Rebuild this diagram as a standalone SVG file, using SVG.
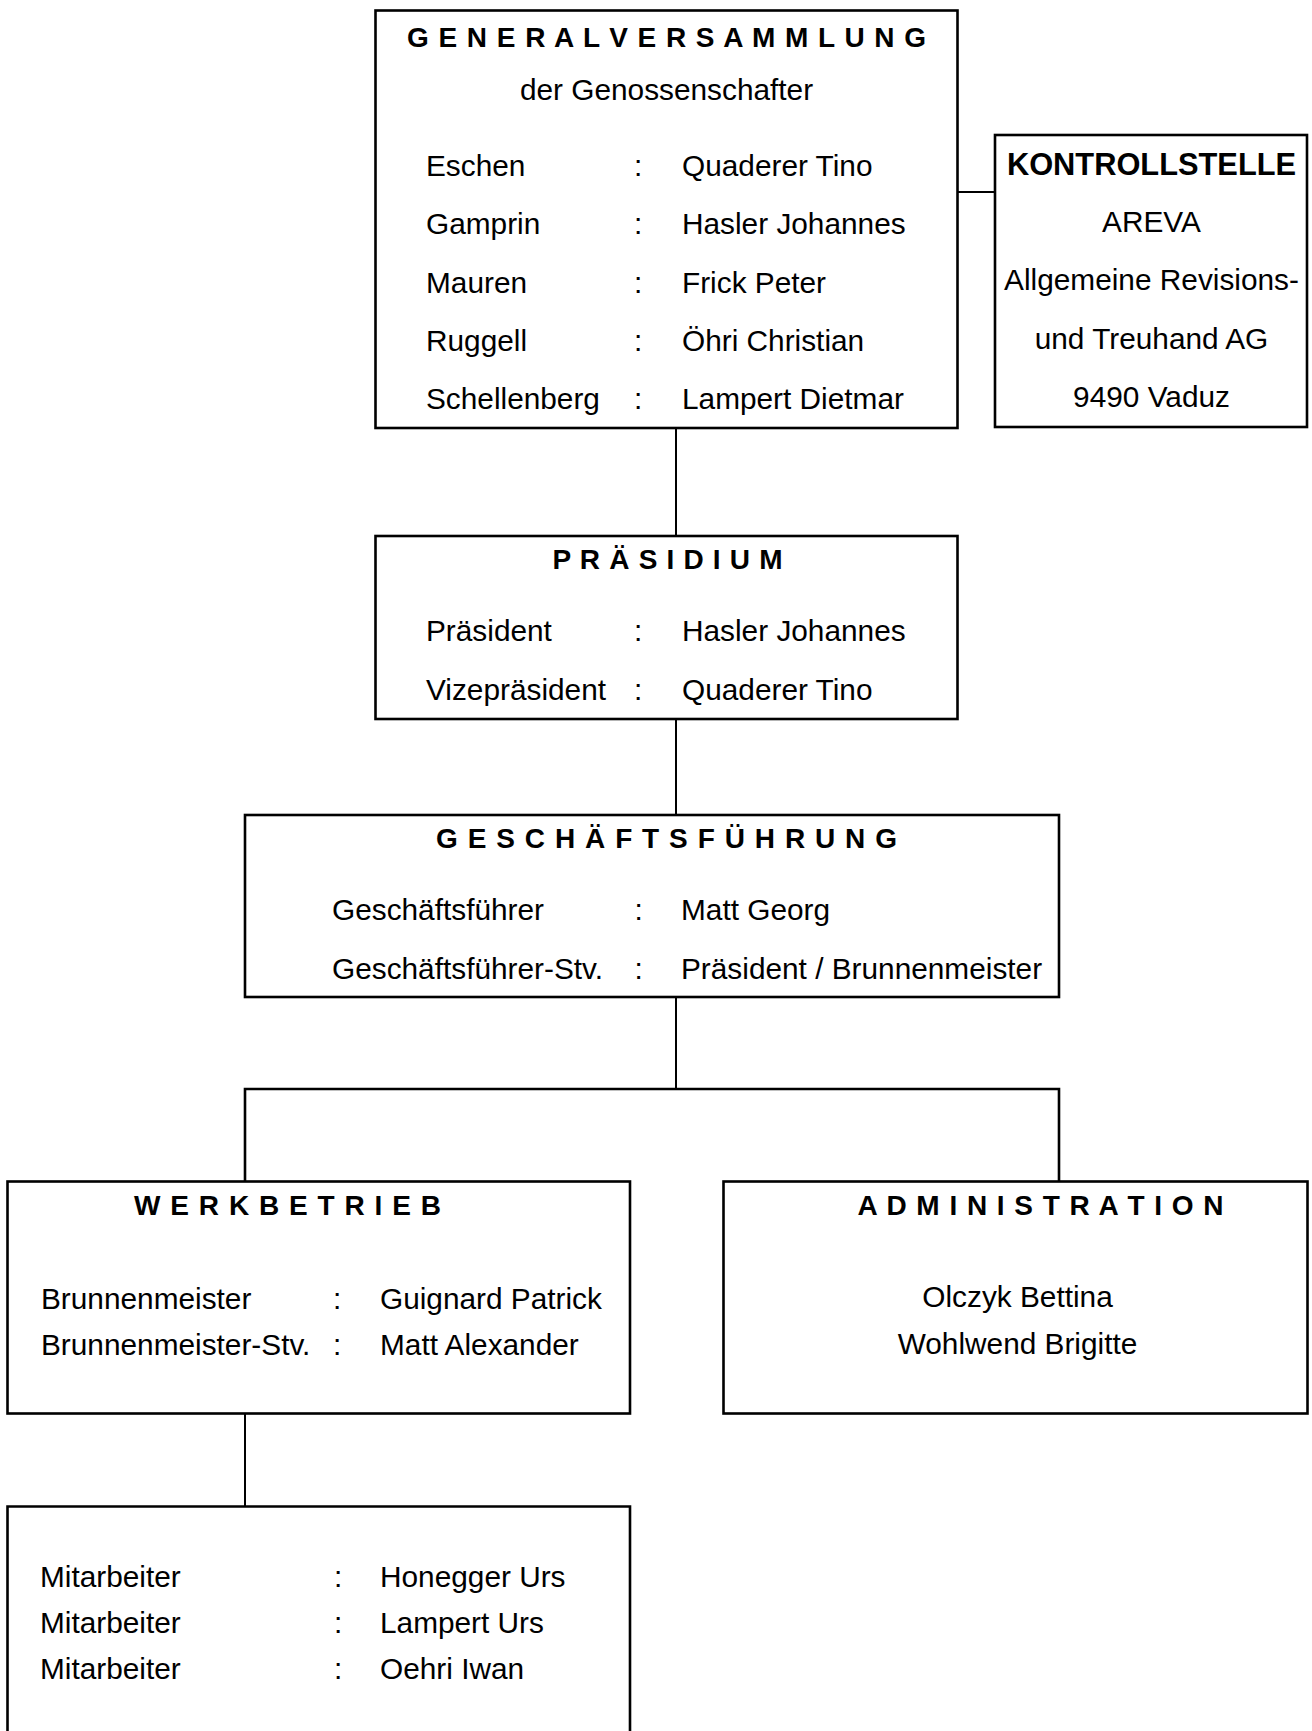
<svg xmlns="http://www.w3.org/2000/svg" width="1312" height="1731" viewBox="0 0 1312 1731">
<style>
.box{fill:#fff;stroke:#000;stroke-width:2.6}
.con{fill:none;stroke:#000;stroke-width:2}
.bar{fill:none;stroke:#000;stroke-width:2.6}
text{font-family:"Liberation Sans",Arial,sans-serif;fill:#000}
.t{font-size:29.8px}
.h{font-size:28px;font-weight:bold;text-anchor:middle}
.hb{font-size:30.8px;font-weight:bold;text-anchor:middle}
.c{text-anchor:middle}
</style>
<rect x="0" y="0" width="1312" height="1731" fill="#fff"/>
<g id="connectors">
<line class="con" x1="676" y1="428" x2="676" y2="536"/>
<line class="con" x1="957" y1="192" x2="995" y2="192"/>
<line class="con" x1="676" y1="719" x2="676" y2="815"/>
<line class="con" x1="676" y1="997" x2="676" y2="1089"/>
<path class="bar" d="M245 1181.5 V1089 H1059 V1181.5"/>
<line class="con" x1="245" y1="1413.5" x2="245" y2="1506.5"/>
</g>
<g id="generalversammlung">
<rect class="box" x="375.5" y="10.5" width="582" height="417.5"/>
<text class="h" x="666.5" y="47" textLength="519" lengthAdjust="spacing">G E N E R A L V E R S A M M L U N G</text>
<text class="t c" x="666.5" y="100">der Genossenschafter</text>
<g class="t">
<text x="426" y="175.5">Eschen</text><text x="634" y="175.5">:</text><text x="682" y="175.5">Quaderer Tino</text>
<text x="426" y="234">Gamprin</text><text x="634" y="234">:</text><text x="682" y="234">Hasler Johannes</text>
<text x="426" y="292.5">Mauren</text><text x="634" y="292.5">:</text><text x="682" y="292.5">Frick Peter</text>
<text x="426" y="351">Ruggell</text><text x="634" y="351">:</text><text x="682" y="351">Öhri Christian</text>
<text x="426" y="409">Schellenberg</text><text x="634" y="409">:</text><text x="682" y="409">Lampert Dietmar</text>
</g>
</g>
<g id="kontrollstelle">
<rect class="box" x="995" y="135" width="312" height="292"/>
<text class="hb" x="1151.5" y="175">KONTROLLSTELLE</text>
<g class="t c">
<text x="1151.5" y="232">AREVA</text>
<text x="1151.5" y="290">Allgemeine Revisions-</text>
<text x="1151.5" y="348.5">und Treuhand AG</text>
<text x="1151.5" y="407">9490 Vaduz</text>
</g>
</g>
<g id="praesidium">
<rect class="box" x="375.5" y="536" width="582" height="183"/>
<text class="h" x="667.5" y="569" textLength="230" lengthAdjust="spacing">P R Ä S I D I U M</text>
<g class="t">
<text x="426" y="641">Präsident</text><text x="634" y="641">:</text><text x="682" y="641">Hasler Johannes</text>
<text x="426" y="699.5">Vizepräsident</text><text x="634" y="699.5">:</text><text x="682" y="699.5">Quaderer Tino</text>
</g>
</g>
<g id="geschaeftsfuehrung">
<rect class="box" x="245" y="815" width="814" height="182"/>
<text class="h" x="666.5" y="848" textLength="461" lengthAdjust="spacing">G E S C H Ä F T S F Ü H R U N G</text>
<g class="t">
<text x="332" y="920">Geschäftsführer</text><text x="634.5" y="920">:</text><text x="681" y="920">Matt Georg</text>
<text x="332" y="979">Geschäftsführer-Stv.</text><text x="634.5" y="979">:</text><text x="681" y="979">Präsident / Brunnenmeister</text>
</g>
</g>
<g id="werkbetrieb">
<rect class="box" x="7.5" y="1181.5" width="622.5" height="232"/>
<text class="h" x="287.5" y="1215" textLength="307" lengthAdjust="spacing">W E R K B E T R I E B</text>
<g class="t">
<text x="41" y="1308.5">Brunnenmeister</text><text x="333" y="1308.5">:</text><text x="380" y="1308.5">Guignard Patrick</text>
<text x="41" y="1355">Brunnenmeister-Stv.</text><text x="333" y="1355">:</text><text x="380" y="1355">Matt Alexander</text>
</g>
</g>
<g id="administration">
<rect class="box" x="723.5" y="1181.5" width="584" height="232"/>
<text class="h" x="1040.5" y="1215" textLength="366" lengthAdjust="spacing">A D M I N I S T R A T I O N</text>
<g class="t c">
<text x="1017.5" y="1306.5">Olczyk Bettina</text>
<text x="1017.5" y="1353.5">Wohlwend Brigitte</text>
</g>
</g>
<g id="mitarbeiter">
<path class="box" d="M7.5 1740 V1506.5 H630 V1740"/>
<g class="t">
<text x="40" y="1586.5">Mitarbeiter</text><text x="334" y="1586.5">:</text><text x="380" y="1586.5">Honegger Urs</text>
<text x="40" y="1633">Mitarbeiter</text><text x="334" y="1633">:</text><text x="380" y="1633">Lampert Urs</text>
<text x="40" y="1679">Mitarbeiter</text><text x="334" y="1679">:</text><text x="380" y="1679">Oehri Iwan</text>
</g>
</g>
</svg>
